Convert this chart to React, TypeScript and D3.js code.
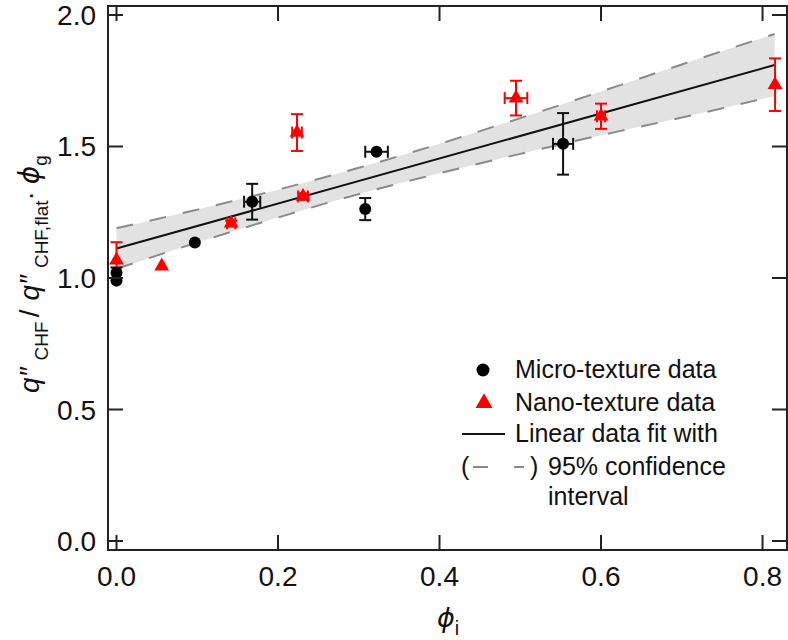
import React from "react";
import * as d3 from "d3";

// micro-texture data (black circles)
const microX = [0, 0, 0.097, 0.168, 0.308, 0.322, 0.553];
const microY = [0.99, 1.02, 1.135, 1.29, 1.262, 1.48, 1.51];
const microXErr = [0, 0, 0, 0.01, 0, 0.014, 0.0125];
const microYErr = [0, 0.02, 0, 0.068, 0.042, 0, 0.117];

// nano-texture data (red triangles)
const nanoX = [0, 0.056, 0.142, 0.2235, 0.231, 0.4947, 0.6, 0.8155];
const nanoY = [1.068, 1.045, 1.208, 1.553, 1.31, 1.684, 1.615, 1.735];
const nanoXErr = [0, 0, 0.005, 0.006, 0.006, 0.014, 0.005, 0];
const nanoYErr = [0.068, 0, 0.01, 0.07, 0.012, 0.066, 0.048, 0.1];

// linear fit and 95% confidence band
const fitX = [0, 0.815];
const fitY = [1.112, 1.81];
const bandX = [0, 0.1, 0.2, 0.3, 0.4, 0.5, 0.6, 0.7, 0.815];
const bandLow = [1.035, 1.135, 1.23, 1.319, 1.398, 1.472, 1.543, 1.61, 1.692];
const bandHigh = [1.189, 1.26, 1.336, 1.419, 1.51, 1.608, 1.709, 1.812, 1.928];

const xTicks = [0, 0.2, 0.4, 0.6, 0.8];
const yTicks = [0, 0.5, 1.0, 1.5, 2.0];

const legendLabels = ["Micro-texture data", "Nano-texture data", "Linear data fit with", "95% confidence", "interval"];

const W = 788;
const H = 640;
const left = 108, right = 787, top = 6, bottom = 550;
const font = "'Liberation Sans', Arial, Helvetica, sans-serif";

export default function App() {
  const x = d3.scaleLinear().domain([-0.01053, 0.8303]).range([left, right]);
  const y = d3.scaleLinear().domain([-0.0342, 2.0342]).range([bottom, top]);

  const band = d3.area<number>()
    .x((d, i) => x(bandX[i]))
    .y0((d, i) => y(bandLow[i]))
    .y1((d, i) => y(bandHigh[i]))
    .curve(d3.curveNatural);
  const bandLine = (vals: number[]) =>
    d3.line<number>().x((d, i) => x(bandX[i])).y(d => y(d)).curve(d3.curveNatural)(vals) || "";
  const fitLine = d3.line<number>().x((d, i) => x(fitX[i])).y(d => y(d))(fitY) || "";

  const tri = d3.symbol(d3.symbolTriangle, 95)() || "";
  const triLegend = d3.symbol(d3.symbolTriangle, 125)() || "";

  const cap = 6;
  const errorBars = (xs: number[], ys: number[], xe: number[], ye: number[], color: string) =>
    xs.map((v, i) => {
      const cx = x(v), cy = y(ys[i]);
      return (
        <g key={i} stroke={color} strokeWidth={2}>
          {ye[i] > 0 && (
            <>
              <line x1={cx} x2={cx} y1={y(ys[i] - ye[i])} y2={y(ys[i] + ye[i])} />
              <line x1={cx - cap} x2={cx + cap} y1={y(ys[i] - ye[i])} y2={y(ys[i] - ye[i])} />
              <line x1={cx - cap} x2={cx + cap} y1={y(ys[i] + ye[i])} y2={y(ys[i] + ye[i])} />
            </>
          )}
          {xe[i] > 0 && (
            <>
              <line y1={cy} y2={cy} x1={x(v - xe[i])} x2={x(v + xe[i])} />
              <line y1={cy - cap} y2={cy + cap} x1={x(v - xe[i])} x2={x(v - xe[i])} />
              <line y1={cy - cap} y2={cy + cap} x1={x(v + xe[i])} x2={x(v + xe[i])} />
            </>
          )}
        </g>
      );
    });

  const tickLen = 15;

  return (
    <svg width={W} height={H} style={{ position: "absolute", left: 0, top: 0 }} fontFamily={font}>
      {/* confidence band */}
      <path d={band(bandX) || ""} fill="#e2e2e2" />
      <path d={bandLine(bandLow)} fill="none" stroke="#8a8a8a" strokeWidth={2} strokeDasharray="17,17" />
      <path d={bandLine(bandHigh)} fill="none" stroke="#8a8a8a" strokeWidth={2} strokeDasharray="17,17" />
      <path d={fitLine} fill="none" stroke="#111" strokeWidth={2} />

      {/* error bars and markers */}
      {errorBars(microX, microY, microXErr, microYErr, "#111")}
      {errorBars(nanoX, nanoY, nanoXErr, nanoYErr, "#f00")}
      {microX.map((v, i) => (
        <circle key={"m" + i} cx={x(v)} cy={y(microY[i])} r={6} fill="#000" />
      ))}
      {nanoX.map((v, i) => (
        <path key={"n" + i} d={tri} transform={`translate(${x(v)},${y(nanoY[i])})`} fill="#f00" />
      ))}

      {/* frame */}
      <rect x={left} y={top} width={right - left} height={bottom - top} fill="none" stroke="#222" strokeWidth={2} />
      {xTicks.map(t => (
        <g key={"xt" + t} stroke="#222" strokeWidth={2}>
          <line x1={x(t)} x2={x(t)} y1={bottom} y2={bottom - tickLen} />
          <line x1={x(t)} x2={x(t)} y1={top} y2={top + tickLen} />
        </g>
      ))}
      {yTicks.map(t => (
        <g key={"yt" + t} stroke="#222" strokeWidth={2}>
          <line x1={left} x2={left + tickLen} y1={y(t)} y2={y(t)} />
          <line x1={right} x2={right - tickLen} y1={y(t)} y2={y(t)} />
        </g>
      ))}
      {xTicks.map(t => (
        <text key={"xl" + t} x={x(t)} y={586} textAnchor="middle" fontSize={28} fill="#111">
          {d3.format(".1f")(t)}
        </text>
      ))}
      {yTicks.map(t => (
        <text key={"yl" + t} x={96} y={y(t) + 10} textAnchor="end" fontSize={28} fill="#111">
          {d3.format(".1f")(t)}
        </text>
      ))}

      {/* axis titles */}
      <text x={437} y={627} fontSize={27} fill="#111">
        <tspan fontStyle="italic" fontFamily="'DejaVu Sans', sans-serif">ϕ</tspan>
        <tspan fontSize={20} dy={8}>i</tspan>
      </text>
      <text transform="translate(39,274) rotate(-90)" textAnchor="middle" fontSize={28} fill="#111">
        <tspan fontStyle="italic">q″</tspan>
        <tspan fontSize={19} dy={9} dx={7}>CHF</tspan>
        <tspan dy={-9} dx={4}>/</tspan>
        <tspan fontStyle="italic" dx={9}>q″</tspan>
        <tspan fontSize={19} dy={9} dx={7}>CHF,flat</tspan>
        <tspan dy={-9}>·</tspan>
        <tspan fontStyle="italic" fontFamily="'DejaVu Sans', sans-serif" dx={7}>ϕ</tspan>
        <tspan fontSize={19} dy={8}>g</tspan>
      </text>

      {/* legend */}
      <g fontSize={25} fill="#111">
        <circle cx={483} cy={370} r={6.5} fill="#000" />
        <text x={515} y={378}>{legendLabels[0]}</text>
        <path d={triLegend} transform="translate(484,403)" fill="#f00" />
        <text x={515} y={411}>{legendLabels[1]}</text>
        <line x1={462} x2={505} y1={434} y2={434} stroke="#111" strokeWidth={2} />
        <text x={515} y={442}>{legendLabels[2]}</text>
        <text x={461} y={475}>(</text>
        <line x1={473} x2={488} y1={467} y2={467} stroke="#8a8a8a" strokeWidth={2} />
        <line x1={514} x2={524} y1={467} y2={467} stroke="#8a8a8a" strokeWidth={2} />
        <text x={530} y={475}>)</text>
        <text x={548} y={475}>{legendLabels[3]}</text>
        <text x={548} y={505}>{legendLabels[4]}</text>
      </g>
    </svg>
  );
}
